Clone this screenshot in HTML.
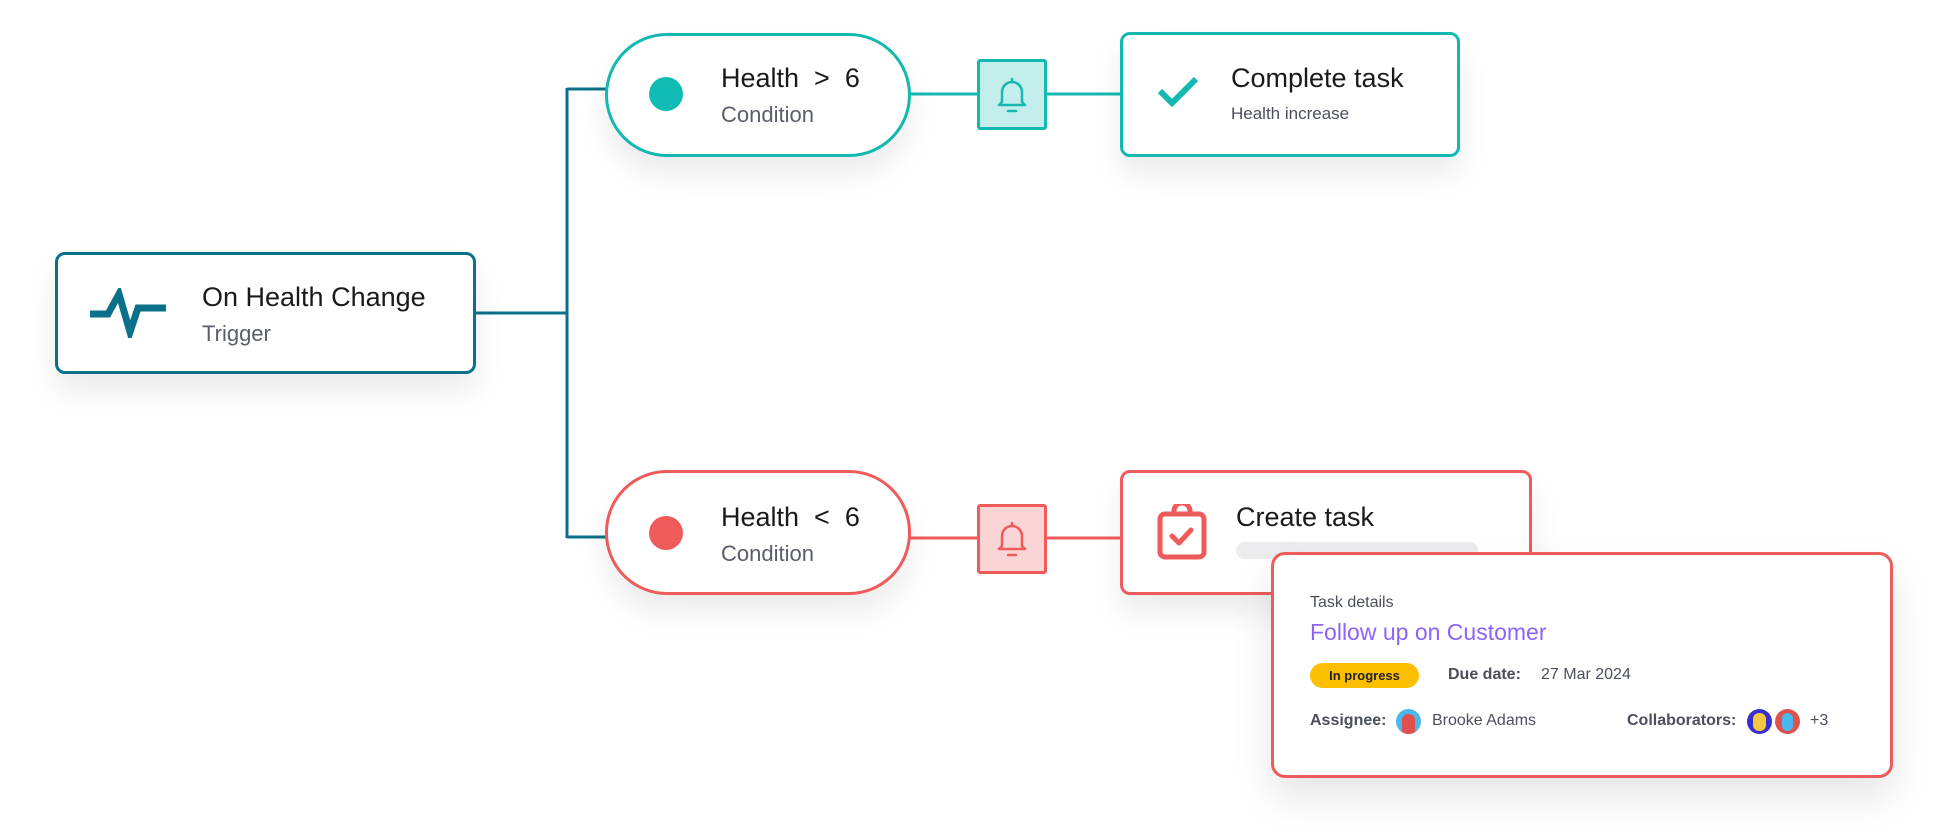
<!DOCTYPE html>
<html><head><meta charset="utf-8"><style>
*{margin:0;padding:0;box-sizing:border-box}
body{width:1936px;height:839px;background:#fff;position:relative;overflow:hidden;font-family:"Liberation Sans",sans-serif}
.a{position:absolute}
.box{position:absolute;background:#fff;border:3px solid;border-radius:10px;box-shadow:0 18px 30px rgba(0,0,0,0.08)}
.t1{position:absolute;font-size:27px;color:#1a1a1a;white-space:nowrap}
.t2{position:absolute;font-size:22px;color:#5a5e6b;white-space:nowrap}
.s{position:absolute;font-size:17px;color:#4b4f5c;white-space:nowrap}
</style></head><body>
<svg class="a" style="left:0;top:0" width="1936" height="839">
<g fill="none" stroke="#0b7089" stroke-width="3">
<path d="M475 313 H567 M567 88 V538 M567 89 H606 M567 537 H606"/>
</g>
<path d="M910 94 H1120" stroke="#13b8b0" stroke-width="3"/>
<path d="M910 538 H1120" stroke="#ef5a5a" stroke-width="3"/>
</svg>

<div class="box" style="left:55px;top:252px;width:421px;height:122px;border-color:#0b7089"></div>
<svg class="a" style="left:88px;top:288px" width="80" height="50"><path d="M2 26 H20 L31 6 L42 44 L50 20 H78" fill="none" stroke="#0b7089" stroke-width="7" stroke-linejoin="miter"/></svg>
<div class="t1" style="left:202px;top:282px">On Health Change</div>
<div class="t2" style="left:202px;top:321px">Trigger</div>

<div class="box" style="left:605px;top:33px;width:306px;height:124px;border-color:#13b8b0;border-radius:62px"></div>
<div class="a" style="left:649px;top:77px;width:34px;height:34px;border-radius:50%;background:#0fbcb4"></div>
<div class="t1" style="left:721px;top:63px">Health &nbsp;&gt;&nbsp; 6</div>
<div class="t2" style="left:721px;top:102px">Condition</div>

<div class="a" style="left:977px;top:59px;width:70px;height:71px;background:#c4eeec;border:3px solid #13b8b0;border-radius:3px"></div>
<svg class="a" style="left:992px;top:74px" width="40" height="42" fill="none" stroke="#13b8b0" stroke-width="2.5" stroke-linecap="round" stroke-linejoin="round"><path d="M10 28 V18 a10 10 0 0 1 20 0 V28 l3 3 H7 Z M16 37 H24 M20 5 V8"/></svg>

<div class="box" style="left:1120px;top:32px;width:340px;height:125px;border-color:#13b8b0"></div>
<svg class="a" style="left:1156px;top:74px" width="44" height="36"><path d="M4 17 L16 29 L40 5" fill="none" stroke="#13b8b0" stroke-width="6"/></svg>
<div class="t1" style="left:1231px;top:63px">Complete task</div>
<div class="s" style="left:1231px;top:104px">Health increase</div>

<div class="box" style="left:605px;top:470px;width:306px;height:125px;border-color:#ef5a5a;border-radius:62px"></div>
<div class="a" style="left:649px;top:516px;width:34px;height:34px;border-radius:50%;background:#ef5a5a"></div>
<div class="t1" style="left:721px;top:502px">Health &nbsp;&lt;&nbsp; 6</div>
<div class="t2" style="left:721px;top:541px">Condition</div>

<div class="a" style="left:977px;top:504px;width:70px;height:70px;background:#fbd5d5;border:3px solid #ef5a5a;border-radius:3px"></div>
<svg class="a" style="left:992px;top:518px" width="40" height="42" fill="none" stroke="#ef5a5a" stroke-width="2.5" stroke-linecap="round" stroke-linejoin="round"><path d="M10 28 V18 a10 10 0 0 1 20 0 V28 l3 3 H7 Z M16 37 H24 M20 5 V8"/></svg>

<div class="box" style="left:1120px;top:470px;width:412px;height:125px;border-color:#ef5a5a"></div>
<svg class="a" style="left:1156px;top:504px" width="52" height="56" fill="none" stroke="#ef5a5a" stroke-width="5" stroke-linejoin="round" stroke-linecap="round"><rect x="4" y="10" width="44" height="43" rx="5"/><path d="M18 10 V7 a8 8 0 0 1 16 0 V10 Z" fill="#fff"/><path d="M16 32 L23 39 L35 26"/></svg>
<div class="t1" style="left:1236px;top:502px">Create task</div>
<div class="a" style="left:1236px;top:542px;width:242px;height:17px;background:#ececee;border-radius:9px"></div>

<div class="box" style="left:1271px;top:552px;width:622px;height:226px;border-color:#ef5a5a;border-radius:14px;box-shadow:0 20px 40px rgba(0,0,0,0.1)"></div>
<div class="s" style="left:1310px;top:594px;font-size:16px;color:#4b4f5c">Task details</div>
<div class="a" style="left:1310px;top:619px;font-size:23px;color:#8a63fb;white-space:nowrap">Follow up on Customer</div>
<div class="a" style="left:1310px;top:663px;width:109px;height:25px;background:#fdc000;border-radius:13px;font-size:13px;font-weight:bold;color:#222;text-align:center;line-height:25px">In progress</div>
<div class="s" style="left:1448px;top:666px;font-size:16px;font-weight:bold">Due date:</div>
<div class="s" style="left:1541px;top:666px;font-size:16px">27 Mar 2024</div>
<div class="s" style="left:1310px;top:712px;font-size:16px;font-weight:bold">Assignee:</div>
<div class="a" style="left:1396px;top:709px;width:25px;height:25px;border-radius:50%;background:#48b8ee;overflow:hidden"><div style="margin:5px 0 0 6px;width:13px;height:20px;border-radius:6px 6px 2px 2px;background:#e0514d"></div></div>
<div class="s" style="left:1432px;top:712px;font-size:16px">Brooke Adams</div>
<div class="s" style="left:1627px;top:712px;font-size:16px;font-weight:bold">Collaborators:</div>
<div class="a" style="left:1747px;top:709px;width:25px;height:25px;border-radius:50%;background:#3a2fd0;overflow:hidden"><div style="margin:4px 0 0 6px;width:13px;height:18px;border-radius:6px;background:#f5c842"></div></div>
<div class="a" style="left:1775px;top:709px;width:25px;height:25px;border-radius:50%;background:#e0514d;overflow:hidden"><div style="margin:4px 0 0 7px;width:11px;height:18px;border-radius:6px;background:#48b8ee"></div></div>
<div class="s" style="left:1810px;top:712px;font-size:16px">+3</div>
</body></html>
